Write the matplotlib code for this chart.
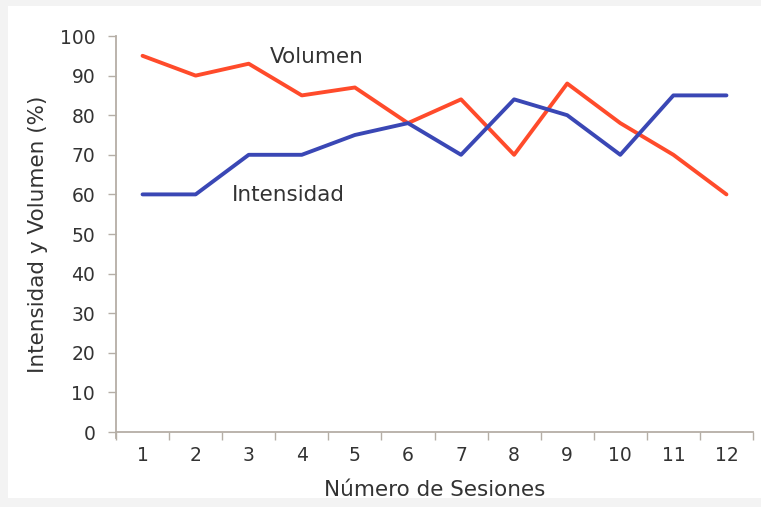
import matplotlib
matplotlib.use("Agg")
import matplotlib.pyplot as plt
from matplotlib.patches import Rectangle
from matplotlib.ticker import FixedLocator, NullFormatter

plt.rcParams["font.family"] = ["DejaVu Sans"]

sessions = [1, 2, 3, 4, 5, 6, 7, 8, 9, 10, 11, 12]
volumen = [95, 90, 93, 85, 87, 78, 84, 70, 88, 78, 70, 60]
intensidad = [60, 60, 70, 70, 75, 78, 70, 84, 80, 70, 85, 85]
y_ticks = list(range(0, 101, 10))

RED = "#ff4b2b"
BLUE = "#3a47b5"
TEXT = "#333333"
AXIS = "#b5aea6"
TICK_FS = 13.5
LABEL_FS = 15.5

fig = plt.figure(figsize=(7.61, 5.07), dpi=100)
fig.patch.set_facecolor("#f3f3f3")

# white card behind the chart
bg = fig.add_axes([0, 0, 1, 1], zorder=-10)
bg.set_axis_off()
bg.set_xlim(0, 761)
bg.set_ylim(507, 0)
bg.add_patch(Rectangle((8, 6), 760, 492, facecolor="white", edgecolor="none"))

ax = fig.add_axes([116 / 761, 75 / 507, 637 / 761, 396 / 507])
ax.set_facecolor("none")

ax.plot(sessions, volumen, color=RED, lw=2.8, solid_joinstyle="round",
        solid_capstyle="round")
ax.plot(sessions, intensidad, color=BLUE, lw=2.8, solid_joinstyle="round",
        solid_capstyle="round")

ax.set_xlim(0.5, 12.5)
ax.set_ylim(0, 100)

# category boundaries carry the tick marks, centres carry the labels
ax.xaxis.set_major_locator(FixedLocator([i + 0.5 for i in range(0, 13)]))
ax.xaxis.set_major_formatter(NullFormatter())
ax.xaxis.set_minor_locator(FixedLocator(sessions))
ax.set_xticklabels([str(s) for s in sessions], minor=True)
ax.tick_params(axis="x", which="major", length=6, width=1, color=AXIS,
               direction="out")
ax.tick_params(axis="x", which="minor", length=0, pad=10, labelsize=TICK_FS,
               labelcolor=TEXT)

ax.set_yticks(y_ticks)
ax.tick_params(axis="y", length=6, width=1, color=AXIS, pad=9,
               labelsize=TICK_FS, labelcolor=TEXT)

for side in ("top", "right"):
    ax.spines[side].set_visible(False)
for side in ("left", "bottom"):
    ax.spines[side].set_color(AXIS)
    ax.spines[side].set_linewidth(1.3)
ax.spines["left"].set_bounds(-1.5, 100)

ax.set_xlabel("Número de Sesiones", fontsize=LABEL_FS, color=TEXT, labelpad=11)
ax.set_ylabel("Intensidad y Volumen (%)", fontsize=LABEL_FS, color=TEXT,
              labelpad=8)

ax.text(4.29, 94.7, "Volumen", fontsize=LABEL_FS, color=TEXT, ha="center",
        va="center")
ax.text(3.74, 59.8, "Intensidad", fontsize=LABEL_FS, color=TEXT, ha="center",
        va="center")

fig.savefig("out.png", dpi=100, facecolor=fig.get_facecolor())
